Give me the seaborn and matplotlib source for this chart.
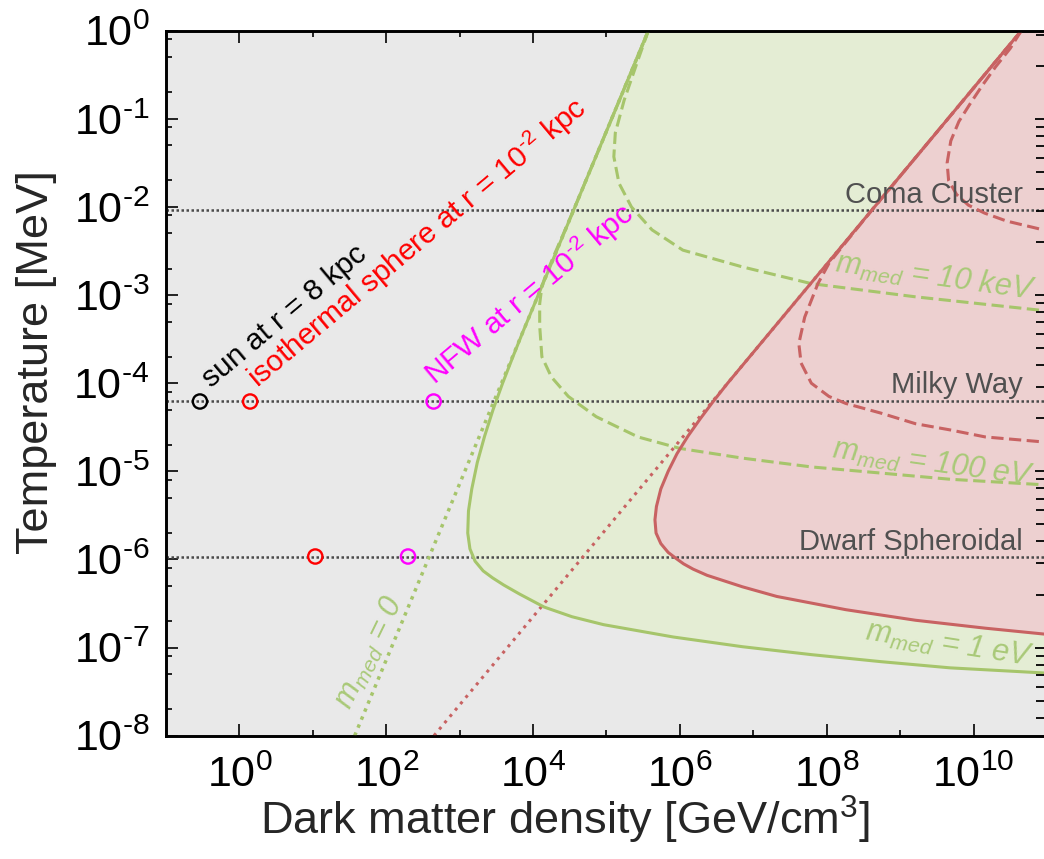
import numpy as np
import pandas as pd
import matplotlib
matplotlib.use("Agg")
import matplotlib.pyplot as plt
from matplotlib.ticker import LogLocator, FuncFormatter, NullFormatter
import seaborn as sns

# ------------------------------------------------------------------
# Curves in the (density, temperature) plane.
# All values are log10(rho / GeV cm^-3) and log10(T / MeV).
# ------------------------------------------------------------------

# outer edge of the green region (m_med = 1 eV)
green_edge_lgrho = [5.57, 5.07, 4.57, 4.07, 3.87, 3.725, 3.585, 3.455, 3.34, 3.24, 3.165,
                    3.12, 3.11, 3.14, 3.21, 3.32, 3.45, 3.60, 3.81, 4.15, 4.53, 4.96, 5.91,
                    6.85, 7.79, 8.74, 9.68, 11.0]
green_edge_lgT = [0.0, -1.0, -2.0, -3.0, -3.4, -3.7, -4.0, -4.3, -4.6, -4.9, -5.2, -5.45,
                  -5.7, -5.88, -6.02, -6.13, -6.21, -6.29, -6.39, -6.54, -6.65, -6.74, -6.88,
                  -6.99, -7.08, -7.16, -7.23, -7.29]

# m_med = 10 keV contour
green_10keV_lgrho = [5.57, 5.43, 5.24, 5.12, 5.10, 5.17, 5.34, 5.62, 6.04, 6.85, 7.79, 9.21, 11.0]
green_10keV_lgT = [0.0, -0.33, -0.79, -1.16, -1.43, -1.73, -2.0, -2.26, -2.49, -2.68, -2.87,
                   -3.02, -3.18]

# m_med = 100 eV contour
green_100eV_lgrho = [5.57, 5.07, 4.57, 4.40, 4.30, 4.17, 4.12, 4.09, 4.09, 4.12, 4.25, 4.48,
                     4.86, 5.43, 6.00, 6.85, 7.79, 8.74, 9.68, 11.0]
green_100eV_lgT = [0.0, -1.0, -2.0, -2.33, -2.52, -2.78, -2.9, -3.1, -3.35, -3.7, -3.93, -4.15,
                   -4.38, -4.61, -4.74, -4.85, -4.95, -5.02, -5.09, -5.155]

# massless-mediator asymptote (m_med = 0)
green_zero_lgrho = [1.57, 5.57]
green_zero_lgT = [-8.0, 0.0]

# outer edge of the red region
red_edge_lgrho = [10.65, 9.65, 8.65, 7.65, 6.65, 6.46, 6.28, 6.11, 5.96, 5.84, 5.74, 5.68,
                  5.66, 5.675, 5.74, 5.84, 5.95, 6.05, 6.18, 6.37, 6.85, 7.32, 8.26, 9.21,
                  10.16, 11.0]
red_edge_lgT = [0.0, -1.0, -2.0, -3.0, -4.0, -4.2, -4.4, -4.6, -4.8, -5.0, -5.2, -5.4,
                -5.55, -5.7, -5.82, -5.92, -5.99, -6.05, -6.11, -6.18, -6.31, -6.42, -6.57,
                -6.69, -6.78, -6.85]

# red dashed contours
red_upper_lgrho = [10.65, 10.50, 10.30, 10.12, 9.96, 9.80, 9.69, 9.64, 9.66, 9.77, 9.93,
                   10.15, 10.45, 11.0]
red_upper_lgT = [0.0, -0.2, -0.41, -0.62, -0.82, -1.03, -1.25, -1.5, -1.70, -1.86, -1.98,
                 -2.07, -2.16, -2.27]

red_lower_lgrho = [10.65, 9.65, 8.65, 8.26, 8.03, 7.88, 7.70, 7.62, 7.65, 7.79, 8.03, 8.26,
                   8.74, 9.21, 9.68, 10.16, 11.0]
red_lower_lgT = [0.0, -1.0, -2.0, -2.40, -2.64, -2.87, -3.25, -3.55, -3.77, -4.0, -4.15,
                 -4.23, -4.34, -4.46, -4.53, -4.61, -4.67]

# red dotted asymptote
red_zero_lgrho = [2.65, 10.65]
red_zero_lgT = [-8.0, 0.0]

# typical halo temperatures [MeV]
system_names = ["Coma Cluster", "Milky Way", "Dwarf Spheroidal"]
system_T = [9.2e-3, 6.2e-5, 1.08e-6]

# density estimates [GeV/cm^3] and temperatures [MeV]
sun_rho, sun_T = [0.29], [6.2e-5]
iso_rho, iso_T = [1.4, 10.8], [6.2e-5, 1.08e-6]
nfw_rho, nfw_T = [442.0, 198.0], [6.2e-5, 1.08e-6]

x_tick_exponents = [0, 2, 4, 6, 8, 10]
y_tick_exponents = [-8, -7, -6, -5, -4, -3, -2, -1, 0]

# ------------------------------------------------------------------
sns.set_theme(style="ticks")
plt.rcParams["font.family"] = ["Liberation Sans", "DejaVu Sans"]
plt.rcParams.update({
    "mathtext.fontset": "custom",
    "mathtext.rm": "Liberation Sans",
    "mathtext.it": "Liberation Sans:italic",
    "mathtext.bf": "Liberation Sans:bold",
})

BG = "#E9E9E9"
GREEN_FILL = "#E4EDD4"
PINK_FILL = "#EDD0D0"
GREEN = "#A6C56B"
GREEN_TXT = "#A9C978"
RED = "#C86262"
GRAY_TXT = "#505050"
HYPHEN = "\u2010"

T_MIN, T_MAX = 1e-8, 1e0
RHO_MIN, RHO_VIEW_MAX, RHO_FILL_MAX = 1e-1, 10 ** 10.958, 1e11


def curve(lgrho, lgT):
    return pd.DataFrame({"rho": 10.0 ** np.asarray(lgrho), "T": 10.0 ** np.asarray(lgT)})


def power_label(v, pos):
    e = int(round(np.log10(v)))
    return r"$\mathdefault{10^{%s}}$" % str(e).replace("-", HYPHEN)


fig = plt.figure(figsize=(10.44, 8.59), dpi=100)
ax = fig.add_axes([166 / 1044, 1 - 735.7 / 859, (1043.9 - 166) / 1044, (735.7 - 30.7) / 859])
ax.set_facecolor(BG)
ax.set_xscale("log")
ax.set_yscale("log")
ax.set_xlim(RHO_MIN, RHO_VIEW_MAX)
ax.set_ylim(T_MIN, T_MAX)

# shaded regions
g = curve(green_edge_lgrho, green_edge_lgT)
ax.fill(list(g["rho"]) + [RHO_FILL_MAX], list(g["T"]) + [T_MAX], color=GREEN_FILL, lw=0, zorder=1)
r = curve(red_edge_lgrho, red_edge_lgT)
ax.fill(list(r["rho"]) + [RHO_FILL_MAX], list(r["T"]) + [T_MAX], color=PINK_FILL, lw=0, zorder=2)

# reference temperatures of halos
for T in system_T:
    ax.axhline(T, color="#4A4A4A", lw=1.8, ls=(0, (1, 1.0)), zorder=3)

dot_g = (0, (1, 1.5))
dot_r = (0, (1, 1.7))
dash = (0, (4, 1.8))

line_specs = [
    (green_zero_lgrho, green_zero_lgT, GREEN, dot_g, 2.5),
    (red_zero_lgrho, red_zero_lgT, RED, dot_r, 2.2),
    (green_10keV_lgrho, green_10keV_lgT, GREEN, dash, 2.2),
    (green_100eV_lgrho, green_100eV_lgT, GREEN, dash, 2.2),
    (red_upper_lgrho, red_upper_lgT, RED, dash, 2.2),
    (red_lower_lgrho, red_lower_lgT, RED, dash, 2.2),
    (green_edge_lgrho, green_edge_lgT, GREEN, "-", 2.2),
    (red_edge_lgrho, red_edge_lgT, RED, "-", 2.2),
]
for lr, lt, col, ls, lw in line_specs:
    sns.lineplot(data=curve(lr, lt), x="rho", y="T", sort=False, estimator=None,
                 color=col, linewidth=lw, linestyle=ls, ax=ax, zorder=4)

# density estimates
for xs, ys, col in [(sun_rho, sun_T, "black"), (iso_rho, iso_T, "#FF0000"),
                    (nfw_rho, nfw_T, "#FF00FF")]:
    sns.scatterplot(x=xs, y=ys, s=105, marker="o", facecolors="none", edgecolors=col,
                    linewidths=1.7, ax=ax, zorder=6)

# labels
ann = dict(rotation=40, rotation_mode="anchor", ha="left", va="baseline", fontsize=21.5, zorder=7)
ax.text(0.416, 8.8e-5, "sun at r = 8 kpc", color="black", **ann)
ax.text(1.81, 8.6e-5, r"isothermal sphere at r = 10$^{%s2}$ kpc" % HYPHEN, color="#FF0000", **ann)
ax.text(466, 9.3e-5, r"NFW at r = 10$^{%s2}$ kpc" % HYPHEN, color="#FF00FF", **ann)

gl = dict(rotation_mode="anchor", ha="left", va="baseline", fontsize=22, color=GREEN_TXT,
          style="italic", zorder=7)
ax.text(32.4, 1.92e-8, r"$m_{med}$ = 0", rotation=64, **gl)
ax.text(1.26e8, 1.83e-3, r"$m_{med}$ = 10 keV", rotation=-8, **gl)
ax.text(1.15e8, 1.42e-5, r"$m_{med}$ = 100 eV", rotation=-8, **gl)
ax.text(3.22e8, 1.22e-7, r"$m_{med}$ = 1 eV", rotation=-9, **gl)

for name, yb in zip(system_names, [1.10e-2, 7.69e-5, 1.28e-6]):
    ax.text(4.75e10, yb, name, ha="right", va="baseline", fontsize=21, color=GRAY_TXT, zorder=7)

# axes, ticks
fmt = FuncFormatter(power_label)
ax.set_xticks([10.0 ** e for e in x_tick_exponents])
ax.xaxis.set_minor_locator(LogLocator(base=10.0, subs=(1.0,), numticks=30))
ax.set_yticks([10.0 ** e for e in y_tick_exponents])
ax.yaxis.set_minor_locator(LogLocator(base=10.0, subs=(2.0, 5.0, 8.0), numticks=30))
ax.xaxis.set_major_formatter(fmt)
ax.yaxis.set_major_formatter(fmt)
ax.xaxis.set_minor_formatter(NullFormatter())
ax.yaxis.set_minor_formatter(NullFormatter())
ax.set_xlim(RHO_MIN, RHO_VIEW_MAX)
ax.set_ylim(T_MIN, T_MAX)

ax.tick_params(axis="both", which="both", direction="in", top=True, right=False,
               labelsize=31, colors="black")
ax.tick_params(axis="both", which="major", length=8.6, width=1.2)
ax.tick_params(axis="both", which="minor", length=4.2, width=1.2)
ax.tick_params(axis="x", which="major", pad=14)
ax.tick_params(axis="y", which="major", pad=12)
for sp in ax.spines.values():
    sp.set_linewidth(1.9)
    sp.set_color("black")
ax.spines["right"].set_visible(False)

# right-hand scale proportional to sqrt(T) (one decade per two decades of T)
ax2 = ax.twinx()
ax2.set_yscale("log")
ax2.set_ylim(np.sqrt(10.0 * T_MIN), np.sqrt(10.0 * T_MAX))
ax2.yaxis.set_major_locator(LogLocator(base=10.0, subs=(1.0,), numticks=30))
ax2.yaxis.set_minor_locator(LogLocator(base=10.0, subs=np.arange(2, 10), numticks=30))
ax2.yaxis.set_major_formatter(NullFormatter())
ax2.yaxis.set_minor_formatter(NullFormatter())
ax2.tick_params(axis="y", which="both", direction="in", left=False, right=True,
                labelleft=False, labelright=False, width=1.3, color="black")
ax2.tick_params(axis="y", which="major", length=6.5)
ax2.tick_params(axis="y", which="minor", length=6.0)
for name, sp in ax2.spines.items():
    sp.set_linewidth(1.9)
    sp.set_color("black")
ax2.spines["right"].set_visible(False)

ax.set_xlabel(r"Dark matter density [GeV/cm$^3$]", fontsize=32.5)
ax.set_ylabel("Temperature [MeV]", fontsize=32.5)
ax.xaxis.set_label_coords(0.4545, -0.083)
ax.yaxis.set_label_coords(-0.124, 0.53)

fig.savefig("out.png", dpi=100)
